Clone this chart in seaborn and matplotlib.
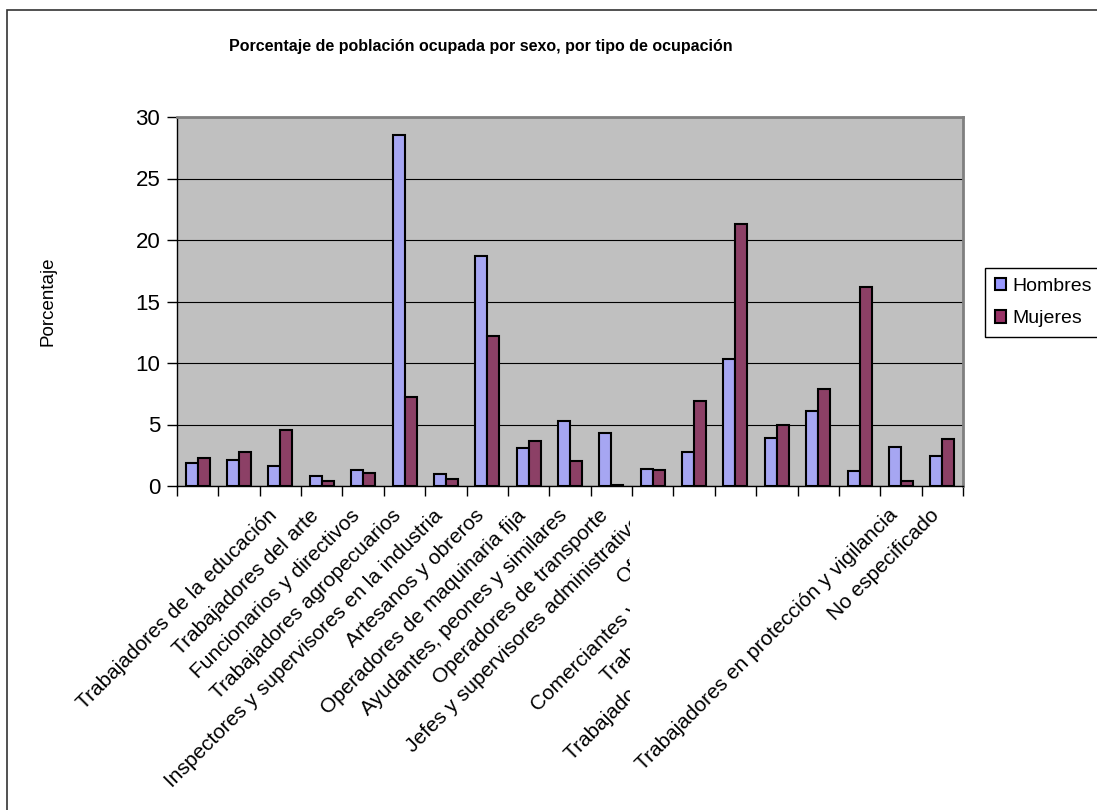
import numpy as np
import pandas as pd
import matplotlib
matplotlib.use('Agg')
import matplotlib.pyplot as plt
import seaborn as sns
from matplotlib.patches import Rectangle
from matplotlib.transforms import Bbox, TransformedBbox, ScaledTranslation

# ========== datos ==========
categorias = [
    'Profesionistas',
    'Técnicos',
    'Trabajadores de la educación',
    'Trabajadores del arte',
    'Funcionarios y directivos',
    'Trabajadores agropecuarios',
    'Inspectores y supervisores en la industria',
    'Artesanos y obreros',
    'Operadores de maquinaria fija',
    'Ayudantes, peones y similares',
    'Operadores de transporte',
    'Jefes y supervisores administrativos',
    'Oficinistas',
    'Comerciantes y dependientes',
    'Trabajadores ambulantes',
    'Trabajadores en servicios personales',
    'Trabajadores en servicios domésticos',
    'Trabajadores en protección y vigilancia',
    'No especificado',
]
hombres = [1.9, 2.1, 1.6, 0.85, 1.3, 28.5, 0.95, 18.7, 3.1, 5.3, 4.3,
           1.4, 2.8, 10.3, 3.9, 6.1, 1.2, 3.2, 2.4]
mujeres = [2.25, 2.8, 4.55, 0.4, 1.05, 7.25, 0.6, 12.2, 3.65, 2.05, 0.08,
           1.3, 6.9, 21.3, 5.0, 7.9, 16.2, 0.4, 3.8]
series = ['Hombres', 'Mujeres']
colores = ['#9999FF', '#993366']
y_ticks = [0, 5, 10, 15, 20, 25, 30]

# etiquetas que no aparecen en el original
ocultas = [0, 1, 16]
# etiquetas recortadas a la izquierda de x = 630 px
recortadas = [11, 12, 13, 14, 15]

df = pd.DataFrame({
    'ocupacion': categorias * 2,
    'porcentaje': hombres + mujeres,
    'sexo': ['Hombres'] * len(categorias) + ['Mujeres'] * len(categorias),
})

# ========== figura ==========
W, H = 1097, 810
fig = plt.figure(figsize=(W / 100, H / 100), dpi=100)
ax = fig.add_axes([177 / W, 1 - 486 / H, (963 - 177) / W, (486 - 117) / H])
ax.set_facecolor('#C0C0C0')

sns.barplot(data=df, x='ocupacion', y='porcentaje', hue='sexo',
            order=categorias, hue_order=series, palette=colores,
            width=0.58, edgecolor='black', linewidth=1.5, ax=ax)

ax.set_ylim(0, 30)
ax.set_xlim(-0.5, len(categorias) - 0.5)
ax.set_yticks(y_ticks)
ax.set_yticklabels([str(t) for t in y_ticks], fontsize=16, family='Liberation Sans')
ax.yaxis.grid(True, color='black', linewidth=0.8)
ax.set_axisbelow(True)

# ticks en los limites de cada categoria
ax.set_xticks(np.arange(len(categorias)))
etiquetas = ['' if i in ocultas else c for i, c in enumerate(categorias)]
ax.set_xticklabels(etiquetas, rotation=45, ha='right', va='center',
                   rotation_mode='anchor', fontsize=15, family='Liberation Sans')
ax.tick_params(axis='x', length=0, pad=19)
ax.set_xticks(np.arange(len(categorias) + 1) - 0.5, minor=True)
ax.tick_params(axis='x', which='minor', length=7, width=1, color='black')
ax.tick_params(axis='y', length=7, width=1, color='black', pad=5)

caja = TransformedBbox(Bbox([[0, 0], [630 / W, 1]]), fig.transFigure)
desplazamiento = ScaledTranslation(-6 / 100, 0, fig.dpi_scale_trans)
for i, lab in enumerate(ax.get_xticklabels()):
    lab.set_transform(lab.get_transform() + desplazamiento)
    if i in recortadas:
        lab.set_clip_on(True)
        lab.set_clip_box(caja)

for s in ['top', 'right']:
    ax.spines[s].set_color('#808080')
    ax.spines[s].set_linewidth(2)
for s in ['left', 'bottom']:
    ax.spines[s].set_color('black')
    ax.spines[s].set_linewidth(1)

ax.set_xlabel('')
ax.set_ylabel('Porcentaje', fontsize=13.5, family='Liberation Sans', labelpad=0)
ax.yaxis.set_label_coords((57 - 177) / (963 - 177), 0.5)

fig.text(481 / W, 1 - 47 / H,
         'Porcentaje de población ocupada por sexo, por tipo de ocupación',
         ha='center', va='center', fontsize=11.5, fontweight='bold',
         family='Liberation Sans')

ax.get_legend().remove()
handles = [Rectangle((0, 0), 1, 1, facecolor=c, edgecolor='black', linewidth=1.5)
           for c in colores]
leg = fig.legend(handles, series, loc='upper left',
                 bbox_to_anchor=(985 / W, 1 - 268 / H), borderaxespad=0,
                 prop={'family': 'Liberation Sans', 'size': 14},
                 handlelength=0.6, handleheight=0.6, handletextpad=0.3,
                 fancybox=False, framealpha=1, edgecolor='black',
                 labelspacing=0.8, borderpad=0.5)
leg.get_frame().set_linewidth(1)

# marco exterior del grafico
fig.patches.append(Rectangle((7 / W, -0.1), 2, 1.1 - 10 / H,
                             transform=fig.transFigure, fill=False,
                             edgecolor='#333333', linewidth=1.2))

fig.savefig('out.png', dpi=100)
